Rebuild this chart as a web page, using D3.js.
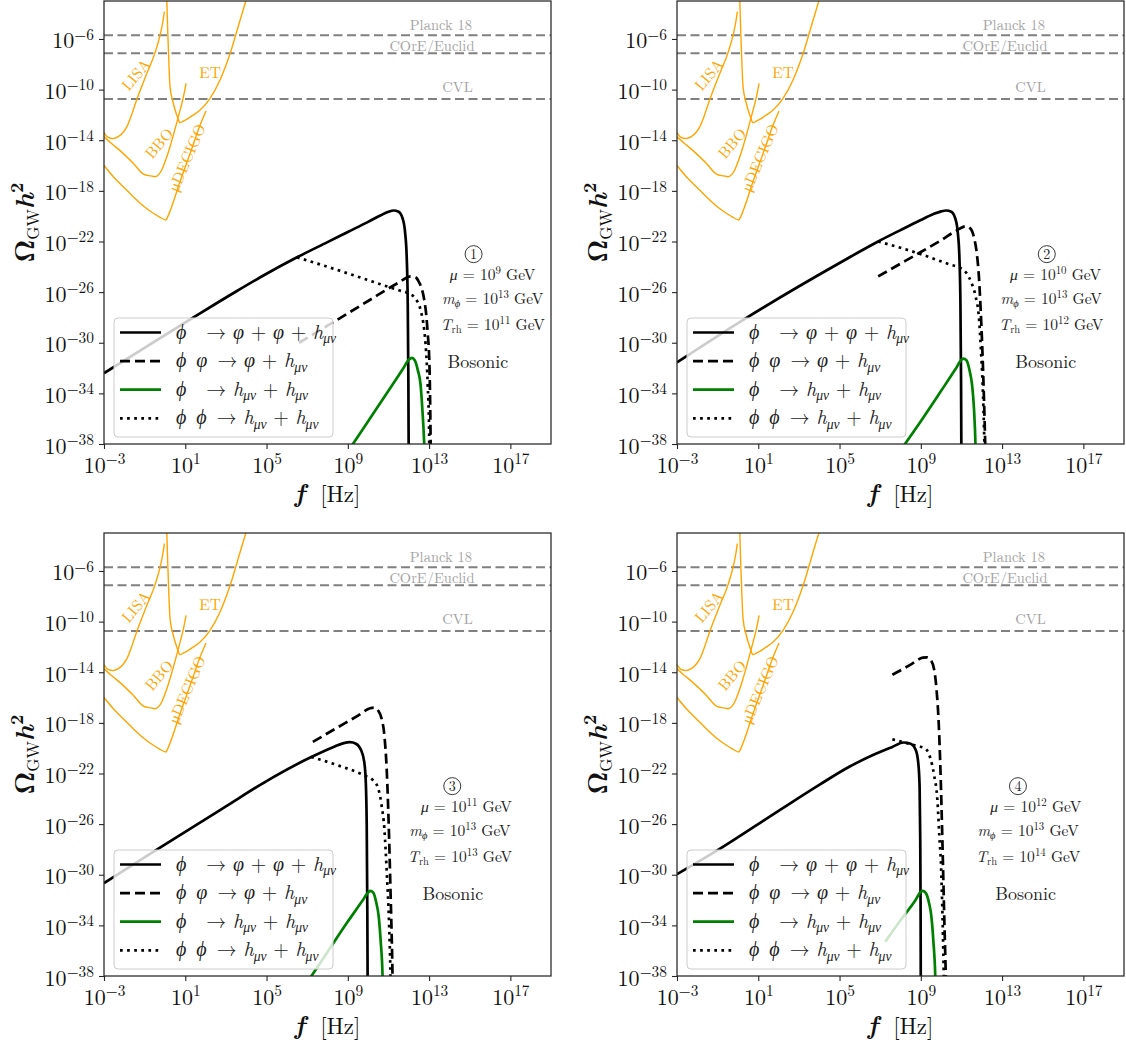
<!DOCTYPE html>
<html><head><meta charset="utf-8">
<script src="https://cdn.jsdelivr.net/npm/d3@7"></script>
<style>
body{margin:0;background:#fff}
svg{display:block}
text{white-space:pre}
</style>
</head><body>
<svg id="chart" width="1126" height="1048"></svg>
<script>
// ---------------- data: pairs are [log10 f/Hz, log10 Omega_GW h^2] ----------------
const xTickExps = [-3, 1, 5, 9, 13, 17];
const yTickExps = [-38, -34, -30, -26, -22, -18, -14, -10, -6];
const xDomainExp = [-3, 19];
const yDomainExp = [-38, -3];

// detector sensitivity curves (same in every panel)
const lisa = [[-3,-13.4],[-2.8,-13.78],[-2.55,-13.87],[-2.3,-13.72],[-2.1,-13.45],[-1.88,-12.95],[-1.6,-11.8],[-1.39,-10.8],[-0.9,-8.75],[-0.49,-7.1],[-0.24,-5.7],[-0.1,-4.6],[-0.03,-3.84]];
const bbo = [[-3,-13.72],[-2.6,-14.3],[-2.21,-14.82],[-1.56,-15.82],[-1.06,-16.67],[-0.7,-16.82],[-0.49,-16.88],[-0.3,-16.7],[-0.16,-16.35],[0.05,-15.5],[0.25,-14.51],[0.66,-12.14],[0.91,-10.56],[1.04,-9.5]];
const et = [[0.09,-2.9],[0.14,-5.55],[0.2,-8.19],[0.25,-9.77],[0.41,-11.08],[0.61,-12.14],[0.74,-12.61],[0.9,-12.5],[1.07,-12.35],[1.4,-12.0],[1.73,-11.61],[2.22,-10.69],[2.71,-9.24],[3.21,-7.13],[3.7,-4.5],[4.0,-2.9]];
const udecigo = [[-3,-16.0],[-2.54,-16.88],[-2.05,-17.67],[-1.56,-18.46],[-1.06,-19.19],[-0.57,-19.77],[-0.24,-20.09],[0.04,-20.3],[0.15,-20.0],[0.33,-19.25],[0.74,-17.27],[1.24,-15.03],[1.73,-12.8],[2.02,-11.69]];
const sensCurves = [lisa, bbo, et, udecigo];
const sensNames = ["LISA", "BBO", "ET", "\u03bcDECIGO"];
const sensLabelPos = [[-1.47,-8.77],[-0.33,-14.19],[2.22,-8.58],[1.03,-15.35]];
const sensLabelRot = [-50, -50, 0, -67];

// N_eff bounds
const boundNames = ["Planck 18", "COrE/Euclid", "CVL"];
const boundValues = [-5.7, -7.13, -10.75];
const boundLabelPos = [[13.58,-4.85],[13.14,-6.5],[14.4,-9.75]];

// GW spectra, one array per panel
const solidCurves = [
  [[-3,-32.4],[1.4,-28.0],[3.5,-25.95],[5,-24.55],[6.5,-23.25],[8,-22.05],[9,-21.25],[10,-20.45],[10.6,-19.95],[11.0,-19.65],[11.25,-19.55],[11.5,-19.65],[11.7,-20.2],[11.82,-21.3],[11.9,-23.3],[11.95,-27],[11.98,-33],[12.0,-40]],
  [[-3,-31.55],[0.32,-28.13],[5,-23.7],[6.9,-22.0],[8,-21.1],[9,-20.3],[9.6,-19.85],[10.0,-19.62],[10.25,-19.55],[10.5,-19.65],[10.7,-20.2],[10.82,-21.3],[10.9,-23.3],[10.95,-27],[10.98,-33],[11.0,-40]],
  [[-3,-30.67],[-0.54,-28.16],[3,-24.6],[5,-22.6],[7.2,-20.7],[8.3,-19.9],[8.8,-19.6],[9.1,-19.53],[9.4,-19.65],[9.65,-20.15],[9.8,-21.0],[9.88,-22.5],[9.93,-26],[9.96,-33],[9.98,-40]],
  [[-3,-29.96],[-1.1,-28.16],[2,-24.95],[4,-22.9],[5.5,-21.45],[6.7,-20.5],[7.6,-19.9],[8.15,-19.55],[8.5,-19.65],[8.75,-20.15],[8.87,-21.1],[8.94,-23],[8.97,-27],[8.99,-33],[9.0,-40]]
];
const dashedCurves = [
  [[6.6,-30.0],[8,-28.65],[10,-26.7],[11.5,-25.25],[12.1,-24.75],[12.35,-24.85],[12.5,-25.2],[12.65,-25.8],[12.76,-26.6],[12.86,-27.8],[12.93,-29.2],[13.02,-31.9],[13.07,-37],[13.09,-40]],
  [[6.9,-24.76],[8,-23.75],[9,-22.83],[10,-21.9],[10.8,-21.1],[11.2,-20.8],[11.45,-21.0],[11.62,-21.7],[11.76,-23.0],[11.86,-24.8],[11.94,-27.2],[12.03,-30.6],[12.11,-34.5],[12.17,-38],[12.2,-40]],
  [[7.28,-19.5],[8.5,-18.36],[9.5,-17.43],[10.1,-16.85],[10.3,-16.8],[10.5,-17.05],[10.67,-17.7],[10.8,-19.0],[10.92,-21.9],[11.01,-25.9],[11.1,-31.2],[11.2,-38],[11.22,-40]],
  [[7.6,-14.2],[8.5,-13.4],[9.1,-12.85],[9.3,-12.82],[9.47,-13.0],[9.65,-13.75],[9.77,-15.3],[9.88,-18.0],[9.97,-21.9],[10.06,-27.2],[10.14,-32.5],[10.23,-38],[10.26,-40]]
];
const greenCurves = [
  [[9.0,-38.6],[10,-36.2],[11,-33.8],[11.7,-32.1],[12.0,-31.35],[12.15,-31.2],[12.3,-31.4],[12.45,-32.2],[12.58,-33.3],[12.67,-35.3],[12.76,-38],[12.8,-40]],
  [[8.0,-38.5],[9,-36.2],[10,-33.8],[10.7,-32.1],[11.0,-31.35],[11.1,-31.25],[11.25,-31.4],[11.4,-32.2],[11.52,-33.3],[11.62,-35.3],[11.69,-38],[11.72,-40]],
  [[7.0,-38.5],[8,-36.1],[9,-33.7],[9.7,-32.1],[10.0,-31.4],[10.1,-31.28],[10.25,-31.4],[10.4,-32.2],[10.52,-33.3],[10.62,-35.3],[10.71,-38],[10.74,-40]],
  [[7.25,-35.3],[8,-33.6],[8.7,-32.1],[9.0,-31.35],[9.1,-31.28],[9.25,-31.45],[9.4,-32.2],[9.52,-33.3],[9.62,-35.3],[9.71,-38],[9.74,-40]]
];
const dottedCurves = [
  [[6.5,-23.25],[8,-24.0],[10,-25.05],[11.5,-25.85],[12.0,-26.1],[12.32,-26.5],[12.58,-27.4],[12.76,-29.0],[12.85,-30.6],[12.93,-33.2],[13.0,-37],[13.02,-40]],
  [[6.9,-22.0],[8,-22.5],[9,-23.0],[10.5,-23.85],[10.8,-24.0],[11.25,-24.5],[11.5,-25.3],[11.69,-26.3],[11.87,-28.2],[11.96,-30.6],[12.04,-33.2],[12.13,-38],[12.16,-40]],
  [[7.2,-20.7],[8.5,-21.35],[9.8,-22.15],[10.25,-22.55],[10.5,-23.2],[10.66,-24.5],[10.8,-26.4],[10.92,-29.9],[11.03,-33.85],[11.1,-38],[11.12,-40]],
  [[7.6,-19.3],[8.3,-19.6],[8.85,-19.85],[9.2,-20.0],[9.47,-20.8],[9.65,-22.1],[9.82,-24.2],[9.91,-26.9],[10.0,-29.5],[10.05,-32.2],[10.13,-38],[10.15,-40]]
];

// panel parameters
const panelNumbers = ["1", "2", "3", "4"];
const muExp = ["9", "10", "11", "12"];
const mphiExp = ["13", "13", "13", "13"];
const trhExp = ["11", "12", "13", "14"];
const annCircleX = [15.19, 15.2, 14.14, 13.78];
const annMuX = [16.13, 15.63, 14.84, 14.66];
const annLineX = [16.13, 15.42, 14.52, 14.28];
const annBosX = [15.4, 15.15, 14.17, 14.16];
const annY = { circle: -23.0, mu: -25.04, m: -26.93, t: -28.99, bos: -32.0 };

// legend entries
const legendLabels = [
  [["\u03d5","i"],["\u2003\u2192 ","r"],["\u03c6","i"],[" + ","r"],["\u03c6","i"],[" + ","r"],["h","i"],["\u03bc\u03bd","subi"]],
  [["\u03d5","i"],["\u2002","r"],["\u03c6","i"],["\u2002\u2192 ","r"],["\u03c6","i"],[" + ","r"],["h","i"],["\u03bc\u03bd","subi"]],
  [["\u03d5","i"],["\u2003\u2192 ","r"],["h","i"],["\u03bc\u03bd","subi"],[" + ","r"],["h","i"],["\u03bc\u03bd","subi"]],
  [["\u03d5","i"],["\u2002","r"],["\u03d5","i"],["\u2002\u2192 ","r"],["h","i"],["\u03bc\u03bd","subi"],[" + ","r"],["h","i"],["\u03bc\u03bd","subi"]]
];

// ---------------- layout / style ----------------
const panelLeft = [104, 677], panelTop = [1, 533];
const PW = 447, PH = 443;
const SERIF = "'Latin Modern Roman','CMU Serif','Liberation Serif','DejaVu Serif',serif";
const ORANGE = "#ffa500", GREEN = "#008000", AXC = "#262626";
const seriesStyles = [
  { data: solidCurves,  color: "#000", dash: null },
  { data: dashedCurves, color: "#000", dash: "10,5" },
  { data: greenCurves,  color: GREEN,  dash: null },
  { data: dottedCurves, color: "#000", dash: "2.7,4.4" }
];

const svg = d3.select("#chart");

function mathText(sel, parts, size) {
  let shift = 0;
  parts.forEach(([t, k]) => {
    let target = 0, fs = size, style = "normal";
    if (k === "i") style = "italic";
    if (k === "sub" || k === "subi") { target = size * 0.22; fs = size * 0.68; if (k === "subi") style = "italic"; }
    if (k === "sup") { target = -size * 0.4; fs = size * 0.7; }
    const ts = sel.append("tspan").attr("font-size", fs).attr("font-style", style).text(t);
    if (target - shift !== 0) ts.attr("dy", target - shift);
    shift = target;
  });
}

for (let i = 0; i < 4; i++) {
  const c = i % 2, r = Math.floor(i / 2);
  const g = svg.append("g").attr("transform", `translate(${panelLeft[c]},${panelTop[r]})`);
  const x = d3.scaleLog().domain(xDomainExp.map(e => Math.pow(10, e))).range([0, PW]);
  const y = d3.scaleLog().domain(yDomainExp.map(e => Math.pow(10, e))).range([PH, 0]);
  const X = e => x(Math.pow(10, e)), Y = e => y(Math.pow(10, e));
  const line = d3.line().x(d => X(d[0])).y(d => Y(d[1])).curve(d3.curveMonotoneX);

  const clipId = "clip" + i;
  g.append("clipPath").attr("id", clipId).append("rect").attr("width", PW).attr("height", PH);
  const plot = g.append("g").attr("clip-path", `url(#${clipId})`);

  // bounds
  boundValues.forEach((v, k) => {
    plot.append("line").attr("x1", 0).attr("x2", PW).attr("y1", Y(v)).attr("y2", Y(v))
      .attr("stroke", "#808080").attr("stroke-width", 2).attr("stroke-dasharray", "9,4.5");
    plot.append("text").attr("x", X(boundLabelPos[k][0])).attr("y", Y(boundLabelPos[k][1]))
      .attr("text-anchor", "middle").attr("dominant-baseline", "central")
      .attr("font-family", SERIF).attr("font-size", 14.5).attr("fill", "#a3a3a3").text(boundNames[k]);
  });

  // sensitivity curves
  sensCurves.forEach((cv, k) => {
    plot.append("path").attr("d", line(cv)).attr("fill", "none").attr("stroke", ORANGE).attr("stroke-width", 1.4);
    const lx = X(sensLabelPos[k][0]), ly = Y(sensLabelPos[k][1]);
    plot.append("text").attr("transform", `translate(${lx},${ly}) rotate(${sensLabelRot[k]})`)
      .attr("text-anchor", "middle").attr("dominant-baseline", "central")
      .attr("font-family", SERIF).attr("font-size", 15.5).attr("fill", ORANGE).text(sensNames[k]);
  });

  // GW spectra
  seriesStyles.forEach(s => {
    const p = plot.append("path").attr("d", line(s.data[i])).attr("fill", "none")
      .attr("stroke", s.color).attr("stroke-width", 2.7);
    if (s.dash) p.attr("stroke-dasharray", s.dash);
  });

  // legend
  const lg = g.append("g").attr("transform", `translate(10,${PH - 126})`);
  lg.append("rect").attr("x", 0).attr("y", 0).attr("width", 219).attr("height", 119).attr("rx", 4)
    .attr("fill", "#fff").attr("fill-opacity", 0.8).attr("stroke", "#cccccc").attr("stroke-width", 1);
  seriesStyles.forEach((s, k) => {
    const cy = 14.5 + k * 28.6;
    const ln = lg.append("line").attr("x1", 6).attr("x2", 47).attr("y1", cy).attr("y2", cy)
      .attr("stroke", s.color).attr("stroke-width", 2.7);
    if (s.dash) ln.attr("stroke-dasharray", s.dash);
    const t = lg.append("text").attr("x", 62).attr("y", cy + 6).attr("font-family", SERIF).attr("fill", "#222");
    mathText(t, legendLabels[k], 20);
  });

  // annotations
  const ccx = X(annCircleX[i]), ccy = Y(annY.circle);
  g.append("circle").attr("cx", ccx).attr("cy", ccy).attr("r", 8.5).attr("fill", "none").attr("stroke", "#222").attr("stroke-width", 0.9);
  g.append("text").attr("x", ccx).attr("y", ccy + 5).attr("text-anchor", "middle").attr("font-family", SERIF)
    .attr("font-size", 14).attr("fill", "#222").text(panelNumbers[i]);
  const t1 = g.append("text").attr("x", X(annMuX[i])).attr("y", Y(annY.mu)).attr("text-anchor", "middle").attr("font-family", SERIF).attr("fill", "#222");
  mathText(t1, [["\u03bc","i"],[" = 10","r"],[muExp[i],"sup"],[" GeV","r"]], 15.5);
  const t2 = g.append("text").attr("x", X(annLineX[i])).attr("y", Y(annY.m)).attr("text-anchor", "middle").attr("font-family", SERIF).attr("fill", "#222");
  mathText(t2, [["m","i"],["\u03d5","subi"],[" = 10","r"],[mphiExp[i],"sup"],[" GeV","r"]], 15.5);
  const t3 = g.append("text").attr("x", X(annLineX[i])).attr("y", Y(annY.t)).attr("text-anchor", "middle").attr("font-family", SERIF).attr("fill", "#222");
  mathText(t3, [["T","i"],["rh","sub"],[" = 10","r"],[trhExp[i],"sup"],[" GeV","r"]], 15.5);
  g.append("text").attr("x", X(annBosX[i])).attr("y", Y(annY.bos)).attr("text-anchor", "middle")
    .attr("font-family", SERIF).attr("font-size", 18).attr("fill", "#222").text("Bosonic");

  // axes
  const xAxis = d3.axisBottom(x).tickValues(xTickExps.map(e => Math.pow(10, e))).tickSize(5).tickFormat(() => "");
  const gx = g.append("g").attr("transform", `translate(0,${PH})`).call(xAxis);
  gx.select(".domain").remove();
  gx.selectAll(".tick line").attr("stroke", AXC).attr("stroke-width", 1.1);
  gx.selectAll(".tick text").remove();
  gx.selectAll(".tick").each(function(d, k) {
    const t = d3.select(this).append("text").attr("y", 29).attr("text-anchor", "middle")
      .attr("font-family", SERIF).attr("fill", "#111");
    const e = xTickExps[k];
    mathText(t, [["10","r"],[(e < 0 ? "\u2212" : "") + Math.abs(e),"sup"]], 22);
  });
  const yAxis = d3.axisLeft(y).tickValues(yTickExps.map(e => Math.pow(10, e))).tickSize(5).tickFormat(() => "");
  const gy = g.append("g").call(yAxis);
  gy.select(".domain").remove();
  gy.selectAll(".tick line").attr("stroke", AXC).attr("stroke-width", 1.1);
  gy.selectAll(".tick text").remove();
  gy.selectAll(".tick").each(function(d, k) {
    const t = d3.select(this).append("text").attr("x", -10).attr("y", 9).attr("text-anchor", "end")
      .attr("font-family", SERIF).attr("fill", "#111");
    const e = yTickExps[k];
    mathText(t, [["10","r"],[(e < 0 ? "\u2212" : "") + Math.abs(e),"sup"]], 22);
  });

  // frame
  g.append("rect").attr("width", PW).attr("height", PH).attr("fill", "none").attr("stroke", AXC).attr("stroke-width", 1.25);

  // axis titles
  const xt = g.append("text").attr("x", PW / 2).attr("y", PH + 58).attr("text-anchor", "middle").attr("font-family", SERIF).attr("fill", "#111");
  xt.append("tspan").attr("font-size", 26).attr("font-weight", "bold").attr("font-style", "italic").text("f");
  xt.append("tspan").attr("font-size", 23).text("  [Hz]");
  const yt = g.append("text").attr("transform", `translate(-70,${PH / 2}) rotate(-90)`).attr("text-anchor", "middle")
    .attr("font-family", SERIF).attr("fill", "#111");
  yt.append("tspan").attr("font-size", 27).attr("font-weight", "bold").text("\u03a9");
  yt.append("tspan").attr("font-size", 17).attr("dy", 5).text("GW");
  yt.append("tspan").attr("font-size", 27).attr("font-weight", "bold").attr("font-style", "italic").attr("dy", -5).text("h");
  yt.append("tspan").attr("font-size", 18).attr("font-weight", "bold").attr("dy", -11).text("2");
}
</script>
</body></html>
